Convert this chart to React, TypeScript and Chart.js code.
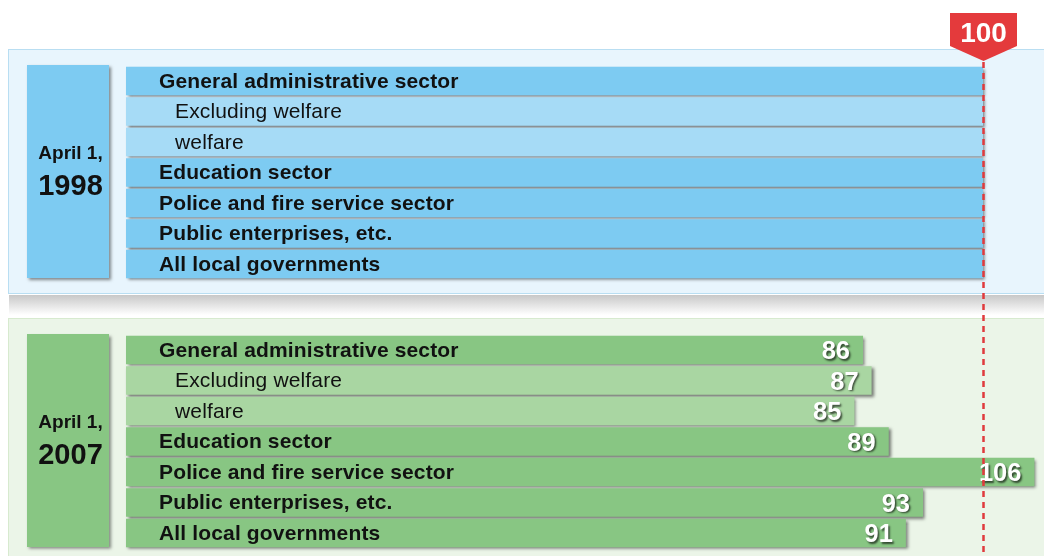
import React, { useEffect, useRef } from "react";
import { Chart, registerables } from "chart.js";

Chart.register(...registerables);

const categories = [
  "General administrative sector",
  "Excluding welfare",
  "welfare",
  "Education sector",
  "Police and fire service sector",
  "Public enterprises, etc.",
  "All local governments",
];
const subItem = [false, true, true, false, false, false, false];
const years = ["1998", "2007"];
const values1998 = [100, 100, 100, 100, 100, 100, 100];
const values2007 = [86, 87, 85, 89, 106, 93, 91];
const referenceValue = 100;

const FONT = "'Liberation Sans', Arial, Helvetica, sans-serif";
const ROW_PX = 30.5;
const FIRST_ROW_PX = 81;
const BOTTOM_OFFSET = 8.82;

const blueMain = "#7dcbf2";
const blueSub = "#a6dbf6";
const greenMain = "#88c683";
const greenSub = "#a9d6a2";

export default function App() {
  const ref = useRef<HTMLCanvasElement | null>(null);

  useEffect(() => {
    if (!ref.current) return;
    const topPos = categories.map((_, i) => i);
    const botPos = categories.map((_, i) => i + BOTTOM_OFFSET);
    const allPos = [...topPos, ...botPos];

    const yMin = -FIRST_ROW_PX / ROW_PX;
    const yMax = yMin + 556 / ROW_PX;

    const decor = {
      id: "decor",
      beforeDatasetsDraw(chart: any) {
        const ctx = chart.ctx as CanvasRenderingContext2D;
        const ys = chart.scales.y;
        ctx.save();
        // top panel
        ctx.fillStyle = "#e8f5fd";
        ctx.fillRect(8, 49, 1040, 245);
        ctx.strokeStyle = "#b9def2";
        ctx.lineWidth = 1;
        ctx.strokeRect(8.5, 49.5, 1040, 244);
        // shadow under top panel
        const g = ctx.createLinearGradient(0, 295, 0, 315);
        g.addColorStop(0, "rgba(200,200,200,1)");
        g.addColorStop(1, "rgba(255,255,255,1)");
        ctx.fillStyle = g;
        ctx.fillRect(9, 295, 1040, 20);
        // bottom panel
        ctx.fillStyle = "#ebf5e8";
        ctx.fillRect(8, 318, 1040, 250);
        ctx.strokeStyle = "#d7eacf";
        ctx.strokeRect(8.5, 318.5, 1040, 250);

        // year boxes
        const boxes = [
          { pos: topPos, color: blueMain, year: years[0] },
          { pos: botPos, color: greenMain, year: years[1] },
        ];
        boxes.forEach((b) => {
          const top = ys.getPixelForValue(b.pos[0]) - 16;
          const bottom = ys.getPixelForValue(b.pos[b.pos.length - 1]) + 14;
          ctx.save();
          ctx.shadowColor = "rgba(0,0,0,0.45)";
          ctx.shadowOffsetX = 2;
          ctx.shadowOffsetY = 2;
          ctx.shadowBlur = 3;
          ctx.fillStyle = b.color;
          ctx.fillRect(27, top, 82, bottom - top);
          ctx.restore();
          const cy = (top + bottom) / 2;
          ctx.fillStyle = "#111";
          ctx.textAlign = "center";
          ctx.textBaseline = "middle";
          ctx.font = `bold 19px ${FONT}`;
          ctx.fillText("April 1,", 70.5, cy - 18);
          ctx.font = `bold 29px ${FONT}`;
          ctx.fillText(b.year, 70.5, cy + 15);
        });
        ctx.restore();
      },
      beforeDatasetDraw(chart: any) {
        const ctx = chart.ctx as CanvasRenderingContext2D;
        ctx.save();
        ctx.shadowColor = "rgba(0,0,0,0.5)";
        ctx.shadowOffsetX = 2;
        ctx.shadowOffsetY = 2;
        ctx.shadowBlur = 3;
      },
      afterDatasetDraw(chart: any) {
        chart.ctx.restore();
      },
      afterDatasetsDraw(chart: any) {
        const ctx = chart.ctx as CanvasRenderingContext2D;
        const xs = chart.scales.x;
        const ys = chart.scales.y;
        ctx.save();
        // category labels
        [topPos, botPos].forEach((pos) => {
          pos.forEach((p, i) => {
            const y = ys.getPixelForValue(p);
            ctx.fillStyle = "#111";
            ctx.textAlign = "left";
            ctx.textBaseline = "middle";
            (ctx as any).letterSpacing = "0.15px";
            ctx.font = `${subItem[i] ? "" : "bold "}21px ${FONT}`;
            ctx.fillText(categories[i], subItem[i] ? 175 : 159, y + 1);
          });
        });
        (ctx as any).letterSpacing = "0px";
        // value labels for 2007
        const meta = chart.getDatasetMeta(1);
        meta.data.forEach((bar: any, i: number) => {
          ctx.save();
          ctx.shadowColor = "rgba(0,0,0,0.65)";
          ctx.shadowOffsetX = 1.5;
          ctx.shadowOffsetY = 1.5;
          ctx.shadowBlur = 2;
          ctx.fillStyle = "#ffffff";
          ctx.textAlign = "right";
          ctx.textBaseline = "middle";
          ctx.font = `bold 25.5px ${FONT}`;
          ctx.fillText(String(values2007[i]), bar.x - 13, bar.y + 2);
          ctx.restore();
        });
        // reference line
        const rx = Math.round(xs.getPixelForValue(referenceValue)) + 0.5;
        ctx.strokeStyle = "#e03a3d";
        ctx.lineWidth = 2.5;
        ctx.setLineDash([6, 5]);
        ctx.beginPath();
        ctx.moveTo(rx, 62);
        ctx.lineTo(rx, 556);
        ctx.stroke();
        ctx.setLineDash([]);
        // marker
        ctx.fillStyle = "#e43a3c";
        ctx.beginPath();
        ctx.moveTo(rx - 33.5, 13);
        ctx.lineTo(rx + 33.5, 13);
        ctx.lineTo(rx + 33.5, 46);
        ctx.lineTo(rx, 61);
        ctx.lineTo(rx - 33.5, 46);
        ctx.closePath();
        ctx.fill();
        ctx.fillStyle = "#ffffff";
        ctx.textAlign = "center";
        ctx.textBaseline = "middle";
        ctx.font = `bold 28px ${FONT}`;
        ctx.fillText(String(referenceValue), rx, 34);
        ctx.restore();
      },
    };

    const chart = new Chart(ref.current, {
      type: "bar",
      data: {
        datasets: [
          {
            label: years[0],
            data: values1998.map((v, i) => ({ x: v, y: topPos[i] })),
            backgroundColor: subItem.map((s) => (s ? blueSub : blueMain)),
            clip: false as any,
          },
          {
            label: years[1],
            data: values2007.map((v, i) => ({ x: v, y: botPos[i] })),
            backgroundColor: subItem.map((s) => (s ? greenSub : greenMain)),
            clip: false as any,
          },
        ],
      },
      options: {
        indexAxis: "y",
        animation: false,
        responsive: false,
        events: [],
        layout: { padding: { left: 126, right: 1, top: 0, bottom: 0 } },
        datasets: {
          bar: {
            grouped: false,
            categoryPercentage: 1,
            barPercentage: 0.94,
            borderWidth: 0,
          },
        },
        scales: {
          x: { type: "linear", min: 0, max: 107, display: false, offset: false },
          y: {
            type: "linear",
            min: yMin,
            max: yMax,
            reverse: true,
            display: false,
            offset: false,
            afterBuildTicks: (scale: any) => {
              scale.ticks = allPos.map((v) => ({ value: v }));
            },
          },
        },
        plugins: {
          legend: { display: false },
          tooltip: { enabled: false },
        },
      } as any,
      plugins: [decor],
    });
    return () => chart.destroy();
  }, []);

  return (
    <div style={{ position: "absolute", left: 0, top: 0, width: 1044, height: 556 }}>
      <canvas ref={ref} width={1044} height={556} />
    </div>
  );
}
